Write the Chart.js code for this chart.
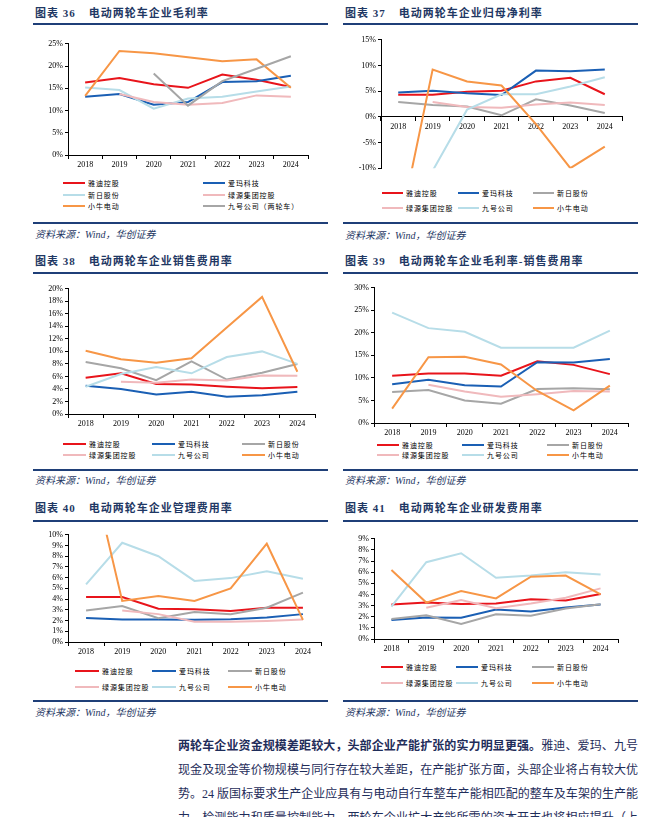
<!DOCTYPE html>
<html>
<head>
<meta charset="utf-8">
<script src="https://cdn.jsdelivr.net/npm/chart.js@4.4.1/dist/chart.umd.min.js"></script>
<style>
  body { margin: 0; background: #fff; }
  #page { position: relative; width: 670px; height: 817px; overflow: hidden; background: #fff; }
  .title { position: absolute; font-family: "Liberation Serif", "Noto Sans CJK SC", serif; font-weight: 700;
           font-size: 11px; line-height: 14px; color: #1f3864; letter-spacing: 1px; white-space: nowrap; }
  .rule { position: absolute; height: 2px; background: #1f3f78; }
  .src { position: absolute; font-family: "Liberation Serif", "Noto Sans CJK SC", serif; font-style: italic;
         font-size: 10px; line-height: 12px; color: #1f3864; white-space: nowrap; }
  .box { position: absolute; }
  .lg-line { position: absolute; height: 2px; }
  .lg-text { position: absolute; font-family: "Noto Sans CJK SC", sans-serif; font-size: 7px; line-height: 10px;
             letter-spacing: 0.9px; color: #000; white-space: nowrap; }
  #para { position: absolute; left: 178px; top: 734px; width: 460px; font-family: "Liberation Serif", "Noto Sans CJK SC", serif;
          font-size: 12px; line-height: 24px; color: #1f2d5a; }
  #para div { text-align: justify; text-align-last: justify; white-space: nowrap; }
</style>
</head>
<body>
<div id="page"></div>
<script>
// categories
const YEARS = ['2018', '2019', '2020', '2021', '2022', '2023', '2024'];

// series names (chart 36 uses a different order/colour mapping)
const NAMES_36 = ['雅迪控股', '爱玛科技', '新日股份', '绿源集团控股', '小牛电动', '九号公司（两轮车）'];
const NAMES = ['雅迪控股', '爱玛科技', '新日股份', '绿源集团控股', '九号公司', '小牛电动'];

const RED = '#e8141b', BLUE = '#1a5fb4', GRAY = '#a6a6a6', PINK = '#f0b9bc', LBLUE = '#b7dde8', ORANGE = '#f79646';
const COLORS_36 = [RED, BLUE, LBLUE, PINK, ORANGE, GRAY];
const COLORS = [RED, BLUE, GRAY, PINK, LBLUE, ORANGE];

// 图表36 毛利率 (%): 雅迪, 爱玛, 新日, 绿源, 小牛, 九号
const grossMargin = [
  [16.3, 17.3, 15.9, 15.1, 18.1, 16.9, 15.3],
  [13.1, 13.7, 11.3, 11.9, 16.4, 16.6, 17.8],
  [15.2, 14.6, 10.4, 12.7, 13.1, 14.3, 15.4],
  [null, 13.7, 11.9, 11.3, 11.7, 13.4, 13.1],
  [13.3, 23.4, 22.9, 22.0, 21.1, 21.5, 15.1],
  [null, null, 18.3, 11.1, 16.6, 19.4, 22.2]
];
// 图表37 归母净利率 (%): 雅迪, 爱玛, 新日, 绿源, 九号, 小牛
const netMargin = [
  [4.3, 4.3, 4.9, 5.1, 6.9, 7.6, 4.4],
  [4.75, 5.1, 4.6, 4.25, 9.0, 8.9, 9.2],
  [2.9, 2.3, 2.0, 0.3, 3.4, 2.2, 0.75],
  [null, 2.9, 1.9, 1.75, 2.4, 2.8, 2.3],
  [null, -10.5, 1.4, 4.4, 4.4, 5.9, 7.7],
  [-23, 9.2, 6.9, 6.1, -1.4, -10, -5.8]
];
// 图表38 销售费用率 (%)
const sellingRatio = [
  [5.8, 6.5, 4.8, 4.7, 4.35, 4.1, 4.3],
  [4.5, 4.0, 3.1, 3.55, 2.75, 3.0, 3.55],
  [8.3, 7.3, 5.4, 8.4, 5.5, 6.6, 8.0],
  [null, 5.15, 5.0, 5.5, 5.35, 6.15, 6.1],
  [4.35, 6.4, 7.5, 6.5, 9.1, 10.0, 8.0],
  [10.1, 8.75, 8.2, 8.9, 13.8, 18.7, 6.75]
];
// 图表39 毛利率-销售费用率 (%)
const gmLessSelling = [
  [10.5, 11.0, 11.0, 10.5, 13.7, 12.9, 10.85],
  [8.6, 9.6, 8.4, 8.1, 13.5, 13.4, 14.2],
  [6.9, 7.3, 5.0, 4.3, 7.55, 7.7, 7.5],
  [null, 8.5, 7.0, 5.8, 6.4, 7.1, 7.0],
  [24.5, 21.05, 20.25, 16.7, 16.7, 16.7, 20.5],
  [3.2, 14.6, 14.7, 13.0, 7.1, 2.8, 8.3]
];
// 图表40 管理费用率 (%)
const adminRatio = [
  [4.2, 4.2, 3.1, 3.05, 2.9, 3.2, 3.2],
  [2.25, 2.1, 2.1, 2.07, 2.13, 2.28, 2.6],
  [2.93, 3.36, 2.22, 2.8, 2.6, 3.2, 4.6],
  [null, 2.93, 2.6, 1.9, 1.9, 1.97, 2.1],
  [5.37, 9.26, 8.0, 5.7, 5.96, 6.6, 5.9],
  [18.2, 3.83, 4.3, 3.83, 5.0, 9.17, 2.07]
];
// 图表41 研发费用率 (%)
const rdRatio = [
  [3.1, 3.27, 3.15, 3.18, 3.56, 3.45, 4.04],
  [1.7, 1.93, 1.9, 2.64, 2.47, 2.82, 3.09],
  [1.8, 2.14, 1.34, 2.23, 2.08, 2.73, 3.12],
  [null, 2.8, 3.5, 2.76, 3.18, 3.7, 4.55],
  [2.9, 6.9, 7.7, 5.5, 5.7, 6.0, 5.8],
  [6.2, 3.27, 4.3, 3.65, 5.6, 5.7, 4.0]
];

const SOURCE = '资料来源：<span style="font-family:\'Liberation Serif\'">Wind</span>，华创证券';

// panel layout: frame, canvas box and legend grid
const panels = [
  { no: '36', title: '电动两轮车企业毛利率', data: grossMargin, names: NAMES_36, colors: COLORS_36,
    x0: 33, x1: 328, titleY: 13, ruleY: 24, footY: 223, srcY: 235,
    cv: [33, 37, 285, 133], yw: 35, xh: 15, pad: [6, 10, 0], min: 0, max: 25, step: 5,
    lgCols: [63, 203], lgRows: [183, 195, 206], lgLen: 22, cols: 2 },
  { no: '37', title: '电动两轮车企业归母净利率', data: netMargin, names: NAMES, colors: COLORS,
    x0: 343, x1: 638, titleY: 13, ruleY: 24, footY: 223, srcY: 236,
    cv: [343, 33, 287, 142], yw: 38, xh: 0, pad: [6, 8, 3], min: -10, max: 15, step: 5, zeroAxis: true,
    lgCols: [382, 458, 533], lgRows: [193, 208], lgLen: 21, cols: 3 },
  { no: '38', title: '电动两轮车企业销售费用率', data: sellingRatio, names: NAMES, colors: COLORS,
    x0: 33, x1: 328, titleY: 261, ruleY: 273, footY: 470, srcY: 481,
    cv: [33, 282, 290, 148], yw: 35, xh: 16, pad: [6, 8, 0], min: 0, max: 20, step: 2,
    lgCols: [63, 152, 242], lgRows: [444, 455], lgLen: 23, cols: 3 },
  { no: '39', title: '电动两轮车企业毛利率-销售费用率', data: gmLessSelling, names: NAMES, colors: COLORS,
    x0: 343, x1: 638, titleY: 261, ruleY: 273, footY: 470, srcY: 481,
    cv: [343, 281, 293, 157], yw: 31, xh: 15, pad: [6, 8, 0], min: 0, max: 30, step: 5,
    lgCols: [377, 462, 547], lgRows: [445, 455], lgLen: 22, cols: 3 },
  { no: '40', title: '电动两轮车企业管理费用率', data: adminRatio, names: NAMES, colors: COLORS,
    x0: 33, x1: 328, titleY: 508, ruleY: 521, footY: 701, srcY: 713,
    cv: [33, 528, 296, 129], yw: 35, xh: 15, pad: [6, 8, 0], min: 0, max: 10, step: 1,
    lgCols: [75, 152, 228], lgRows: [671, 687], lgLen: 24, cols: 3 },
  { no: '41', title: '电动两轮车企业研发费用率', data: rdRatio, names: NAMES, colors: COLORS,
    x0: 343, x1: 638, titleY: 508, ruleY: 521, footY: 701, srcY: 713,
    cv: [343, 532, 283, 122], yw: 31, xh: 15, pad: [6, 8, 0], min: 0, max: 9, step: 1,
    lgCols: [381, 456, 532], lgRows: [667, 683], lgLen: 22, cols: 3 }
];

const page = document.getElementById('page');

function el(cls, css, html) {
  const d = document.createElement('div');
  d.className = cls;
  Object.assign(d.style, css);
  if (html) d.innerHTML = html;
  page.appendChild(d);
  return d;
}

const tickFont = { family: 'Liberation Serif', size: 8 };

function drawPanel(p) {
  el('title', { left: (p.x0 + 2) + 'px', top: (p.titleY - 7) + 'px' },
     '图表 ' + p.no + '<span style="margin-left:13px">' + p.title + '</span>');
  el('rule', { left: p.x0 + 'px', top: (p.ruleY - 1) + 'px', width: (p.x1 - p.x0) + 'px' });
  el('rule', { left: p.x0 + 'px', top: (p.footY - 1) + 'px', width: (p.x1 - p.x0) + 'px' });
  el('src', { left: (p.x0 + 2) + 'px', top: (p.srcY - 6) + 'px' }, SOURCE);

  // legend
  p.names.forEach((name, i) => {
    let col = i % p.cols, row = Math.floor(i / p.cols);
    let lx = p.lgCols[col], ly = p.lgRows[row];
    el('lg-line', { left: lx + 'px', top: (ly - 1) + 'px', width: p.lgLen + 'px', background: p.colors[i] });
    el('lg-text', { left: (lx + p.lgLen + 3) + 'px', top: (ly - 5) + 'px' }, name);
  });

  let [l, t, w, h] = p.cv;
  let box = el('box', { left: l + 'px', top: t + 'px', width: w + 'px', height: h + 'px' });
  let cv = document.createElement('canvas');
  box.appendChild(cv);

  let n = p.data.length;
  new Chart(cv, {
    type: 'line',
    data: {
      labels: YEARS,
      datasets: p.data.map((vals, i) => ({
        label: p.names[i],
        data: vals,
        borderColor: p.colors[i],
        backgroundColor: p.colors[i],
        borderWidth: 2,
        pointRadius: 0,
        tension: 0,
        order: n - i
      }))
    },
    options: {
      responsive: true,
      maintainAspectRatio: false,
      animation: false,
      events: [],
      layout: { padding: { top: p.pad[0], right: p.pad[1], bottom: p.pad[2], left: 0 } },
      plugins: { legend: { display: false }, tooltip: { enabled: false } },
      scales: {
        x: {
          type: 'category',
          offset: true,
          position: p.zeroAxis ? { y: 0 } : 'bottom',
          grid: { offset: true, drawOnChartArea: false, drawTicks: true, tickLength: 4, color: '#000', lineWidth: 1 },
          border: { color: '#000', width: 1 },
          ticks: { font: tickFont, color: '#000', padding: 1, maxRotation: 0, autoSkip: false },
          afterFit: s => { if (!p.zeroAxis) s.height = p.xh; }
        },
        y: {
          min: p.min,
          max: p.max,
          grid: { drawOnChartArea: false, drawTicks: true, tickLength: 3, color: '#000', lineWidth: 1 },
          border: { color: '#000', width: 1 },
          ticks: { stepSize: p.step, autoSkip: false, font: tickFont, color: '#000', padding: 2, callback: v => v + '%' },
          afterFit: s => { s.width = p.yw; }
        }
      }
    }
  });
}

panels.forEach(drawPanel);

// closing paragraph
el('', {}, '').id = 'para';
document.getElementById('para').innerHTML =
  '<div><b>两轮车企业资金规模差距较大，头部企业产能扩张的实力明显更强。</b>雅迪、爱玛、九号</div>' +
  '<div>现金及现金等价物规模与同行存在较大差距，在产能扩张方面，头部企业将占有较大优</div>' +
  '<div>势。24 版国标要求生产企业应具有与电动自行车整车产能相匹配的整车及车架的生产能</div>' +
  '<div>力、检测能力和质量控制能力，两轮车企业扩大产能所需的资本开支也将相应提升（上</div>';
</script>
</body>
</html>
